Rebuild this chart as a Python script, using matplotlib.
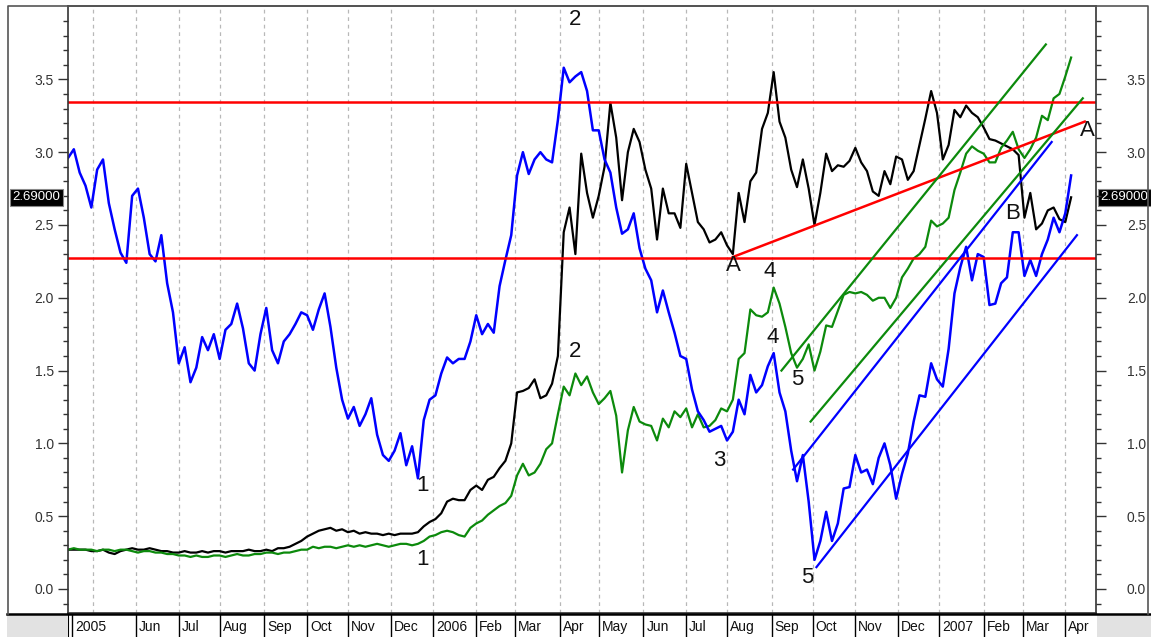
import numpy as np
import pandas as pd
import matplotlib
matplotlib.use("Agg")
import matplotlib.pyplot as plt
import matplotlib.transforms as mtransforms
from matplotlib.patches import Rectangle
from matplotlib.lines import Line2D

plt.rcParams['font.family'] = ['Liberation Sans', 'DejaVu Sans']

# trading calendar of the chart, one slot per business day
days = pd.bdate_range('2005-04-13', periods=530)
step = 3  # one reading every 3 sessions

blue = [2.96, 3.02, 2.86, 2.77, 2.62, 2.88, 2.95, 2.65, 2.47, 2.31,
        2.24, 2.70, 2.75, 2.55, 2.30, 2.25, 2.43, 2.10, 1.90, 1.55,
        1.66, 1.42, 1.52, 1.73, 1.64, 1.75, 1.58, 1.78, 1.82, 1.96,
        1.79, 1.55, 1.50, 1.75, 1.93, 1.64, 1.55, 1.70, 1.75, 1.82,
        1.90, 1.88, 1.78, 1.92, 2.03, 1.80, 1.52, 1.30, 1.17, 1.25,
        1.12, 1.20, 1.31, 1.06, 0.92, 0.88, 0.95, 1.07, 0.85, 0.98,
        0.76, 1.16, 1.30, 1.33, 1.48, 1.59, 1.55, 1.58, 1.58, 1.70,
        1.88, 1.75, 1.82, 1.76, 2.08, 2.26, 2.43, 2.84, 3.00, 2.85,
        2.95, 3.00, 2.95, 2.93, 3.22, 3.58, 3.48, 3.52, 3.55, 3.42,
        3.15, 3.15, 2.95, 2.86, 2.62, 2.44, 2.47, 2.58, 2.34, 2.20,
        2.12, 1.90, 2.05, 1.90, 1.76, 1.60, 1.58, 1.37, 1.22, 1.16,
        1.08, 1.10, 1.12, 1.02, 1.08, 1.30, 1.20, 1.47, 1.35, 1.40,
        1.53, 1.62, 1.35, 1.22, 0.95, 0.74, 0.92, 0.60, 0.20, 0.33,
        0.53, 0.33, 0.45, 0.69, 0.70, 0.92, 0.80, 0.82, 0.72, 0.90,
        1.00, 0.85, 0.62, 0.79, 0.93, 1.15, 1.33, 1.32, 1.55, 1.44,
        1.39, 1.65, 2.03, 2.21, 2.35, 2.12, 2.30, 2.28, 1.95, 1.96,
        2.10, 2.14, 2.45, 2.45, 2.15, 2.26, 2.15, 2.30, 2.40, 2.55,
        2.45, 2.58, 2.84]

black = [0.27, 0.27, 0.27, 0.27, 0.26, 0.26, 0.27, 0.25, 0.24, 0.26,
         0.27, 0.28, 0.27, 0.27, 0.28, 0.27, 0.26, 0.26, 0.25, 0.25,
         0.26, 0.25, 0.25, 0.26, 0.25, 0.26, 0.26, 0.25, 0.26, 0.26,
         0.26, 0.27, 0.26, 0.26, 0.27, 0.26, 0.28, 0.28, 0.29, 0.31,
         0.33, 0.36, 0.38, 0.40, 0.41, 0.42, 0.40, 0.41, 0.39, 0.40,
         0.38, 0.39, 0.38, 0.38, 0.37, 0.38, 0.37, 0.38, 0.38, 0.38,
         0.39, 0.43, 0.46, 0.48, 0.52, 0.60, 0.62, 0.61, 0.61, 0.68,
         0.71, 0.68, 0.75, 0.77, 0.83, 0.88, 1.00, 1.35, 1.36, 1.38,
         1.44, 1.31, 1.33, 1.41, 1.60, 2.45, 2.62, 2.30, 2.99, 2.72,
         2.55, 2.70, 2.90, 3.34, 3.10, 2.67, 3.00, 3.16, 3.07, 2.88,
         2.75, 2.40, 2.75, 2.58, 2.58, 2.48, 2.92, 2.72, 2.52, 2.47,
         2.38, 2.40, 2.45, 2.36, 2.30, 2.72, 2.52, 2.80, 2.86, 3.16,
         3.27, 3.55, 3.21, 3.10, 2.88, 2.76, 2.95, 2.75, 2.50, 2.72,
         2.99, 2.87, 2.91, 2.90, 2.94, 3.03, 2.93, 2.87, 2.73, 2.70,
         2.87, 2.78, 2.97, 2.95, 2.81, 2.87, 3.05, 3.23, 3.42, 3.27,
         2.95, 3.05, 3.29, 3.24, 3.32, 3.27, 3.24, 3.17, 3.09, 3.08,
         3.06, 3.04, 3.02, 2.98, 2.55, 2.72, 2.47, 2.51, 2.60, 2.62,
         2.54, 2.52, 2.69]

green = [0.27, 0.28, 0.27, 0.27, 0.27, 0.26, 0.27, 0.27, 0.26, 0.27,
         0.27, 0.26, 0.25, 0.26, 0.26, 0.25, 0.25, 0.24, 0.24, 0.23,
         0.23, 0.22, 0.23, 0.22, 0.22, 0.23, 0.23, 0.22, 0.23, 0.24,
         0.23, 0.23, 0.24, 0.24, 0.25, 0.25, 0.24, 0.25, 0.25, 0.26,
         0.27, 0.27, 0.29, 0.28, 0.29, 0.29, 0.28, 0.29, 0.30, 0.29,
         0.30, 0.29, 0.30, 0.31, 0.30, 0.29, 0.30, 0.31, 0.31, 0.30,
         0.31, 0.33, 0.36, 0.37, 0.39, 0.40, 0.39, 0.37, 0.36, 0.42,
         0.45, 0.47, 0.51, 0.54, 0.57, 0.59, 0.64, 0.78, 0.86, 0.78,
         0.80, 0.86, 0.96, 1.00, 1.20, 1.39, 1.33, 1.48, 1.40, 1.46,
         1.35, 1.27, 1.31, 1.36, 1.19, 0.80, 1.09, 1.25, 1.15, 1.13,
         1.12, 1.02, 1.17, 1.11, 1.22, 1.18, 1.24, 1.11, 1.20, 1.11,
         1.12, 1.16, 1.24, 1.22, 1.30, 1.58, 1.62, 1.92, 1.88, 1.87,
         1.90, 2.07, 1.96, 1.80, 1.62, 1.52, 1.58, 1.68, 1.50, 1.63,
         1.81, 1.80, 1.91, 2.02, 2.04, 2.03, 2.04, 2.02, 1.98, 2.00,
         2.00, 1.93, 2.00, 2.14, 2.20, 2.27, 2.30, 2.35, 2.53, 2.49,
         2.51, 2.55, 2.74, 2.86, 2.99, 3.04, 3.01, 2.99, 2.93, 2.93,
         3.03, 3.08, 3.14, 3.02, 2.96, 3.02, 3.10, 3.25, 3.22, 3.37,
         3.40, 3.52, 3.65]

support_level = 2.273
resistance_level = 3.345
last_close = 2.69

# drawn trend lines: [start session, end session], [start value, end value]
red_trend_s, red_trend_v = [342, 523], [2.28, 3.21]
green_up_s, green_up_v = [367, 503], [1.50, 3.74]
green_lo_s, green_lo_v = [382, 522], [1.15, 3.37]
blue_up_s, blue_up_v = [373, 506], [0.82, 3.07]
blue_lo_s, blue_lo_v = [385, 519], [0.15, 2.43]

# wave marks: text, session, value
wave_marks = [('2', 260.8, 3.91), ('1', 182.1, 0.71), ('1', 182.1, 0.20),
              ('2', 260.8, 1.63), ('3', 334.9, 0.88), ('4', 361.1, 2.18),
              ('4', 362.7, 1.73), ('5', 375.0, 1.44), ('5', 380.1, 0.08),
              ('A', 342.1, 2.22), ('A', 524.2, 3.15), ('B', 486.1, 2.58)]

months = pd.date_range('2005-05-01', '2007-04-01', freq='MS')
month_pos = days.searchsorted(months)
month_lbl = [str(m.year) if m.month == 1 else m.strftime('%b') for m in months]

W, H = 1151, 637
fig = plt.figure(figsize=(W / 100, H / 100), dpi=100)
ax = fig.add_axes([68 / W, 24 / H, 1028 / W, 607 / H])
x = np.arange(len(blue)) * step

for p in month_pos:
    ax.axvline(p, color='#b8b8b8', lw=0.9, ls=(0, (3, 3)), zorder=0)

ax.plot(x, black, color='black', lw=1.6)
ax.plot(x, green, color='#0c8a0c', lw=1.6)
ax.plot(x, blue, color='#0000ff', lw=1.8)

ax.axhline(support_level, color='#ff0000', lw=1.8)
ax.axhline(resistance_level, color='#ff0000', lw=1.8)
ax.plot(red_trend_s, red_trend_v, color='#ff0000', lw=1.8)
ax.plot(green_up_s, green_up_v, color='#0c8a0c', lw=1.6)
ax.plot(green_lo_s, green_lo_v, color='#0c8a0c', lw=1.6)
ax.plot(blue_up_s, blue_up_v, color='#0000ff', lw=1.6)
ax.plot(blue_lo_s, blue_lo_v, color='#0000ff', lw=1.6)

for t, s, v in wave_marks:
    ax.text(s, v, t, fontsize=16, ha='center', va='center', color='#111111')

ax.set_xlim(0, 528.8)
ax.set_ylim(-0.165, 4.004)
ax.set_xticks([])
yt = np.arange(0, 3.51, 0.5)
ax.set_yticks(yt)
ax.set_yticklabels([f'{v:.1f}' for v in yt])
ax.set_yticks(np.arange(-0.1, 3.95, 0.1), minor=True)
ax.tick_params(axis='y', which='major', length=7.2, width=1, color='#333333',
               labelsize=10, labelcolor='#333333', pad=3)
ax.tick_params(axis='y', which='minor', length=3.6, width=1, color='#333333')
for side in ['left', 'right', 'top', 'bottom']:
    ax.spines[side].set_color('#333333')
    ax.spines[side].set_linewidth(1.2)

axr = ax.twinx()
axr.set_ylim(ax.get_ylim())
axr.set_yticks(yt)
axr.set_yticklabels([f'{v:.1f}' for v in yt])
axr.set_yticks(np.arange(-0.1, 3.95, 0.1), minor=True)
axr.tick_params(axis='y', which='major', length=7.2, width=1, color='#333333',
                labelsize=10, labelcolor='#333333', pad=15)
axr.tick_params(axis='y', which='minor', length=3.6, width=1, color='#333333')
for side in ['left', 'right', 'top', 'bottom']:
    axr.spines[side].set_visible(False)

box = dict(boxstyle='square,pad=0.2', fc='black', ec='#888888', lw=0.8)
bt = mtransforms.blended_transform_factory(ax.transAxes, ax.transData)
ax.text(-0.0306, last_close, f'{last_close:.5f}', transform=bt, ha='center',
        va='center', color='white', fontsize=9.5, bbox=box, clip_on=False)
ax.text(1.0275, last_close, f'{last_close:.5f}', transform=bt, ha='center',
        va='center', color='white', fontsize=9.5, bbox=box, clip_on=False)

# date strip under the chart
axd = fig.add_axes([68 / W, 0, 1028 / W, 23 / H])
axd.set_xlim(ax.get_xlim())
axd.set_ylim(0, 1)
axd.set_xticks([])
axd.set_yticks([])
for side in ['right', 'top', 'bottom']:
    axd.spines[side].set_visible(False)
axd.spines['left'].set_color('black')
sep_pos = [0] + list(month_pos[1:])
sep_lbl = [str(months[0].year)] + month_lbl[1:]
tr = mtransforms.offset_copy(axd.transData, fig=fig, x=3, y=0, units='dots')
for p, lbl in zip(sep_pos, sep_lbl):
    axd.axvline(p + (2 if p == 0 else 0), color='black', lw=1)
    axd.text(p + (2 if p == 0 else 0), 0.42, lbl, transform=tr, ha='left',
             va='center', fontsize=10, color='#111111')

fig.patches.append(Rectangle((7 / W, 0), 61 / W, 23 / H, transform=fig.transFigure,
                             fc='#e2e2e2', ec='none'))
fig.patches.append(Rectangle((1097 / W, 0), 54 / W, 23 / H, transform=fig.transFigure,
                             fc='#e2e2e2', ec='none'))
fig.add_artist(Line2D([7 / W, 1], [23.5 / H, 23.5 / H], color='black', lw=1.8))
fig.add_artist(Line2D([8 / W, 8 / W, 1148 / W, 1148 / W],
                      [23 / H, 631 / H, 631 / H, 23 / H], color='#555555', lw=1.2))

fig.savefig('out.png', dpi=100)
